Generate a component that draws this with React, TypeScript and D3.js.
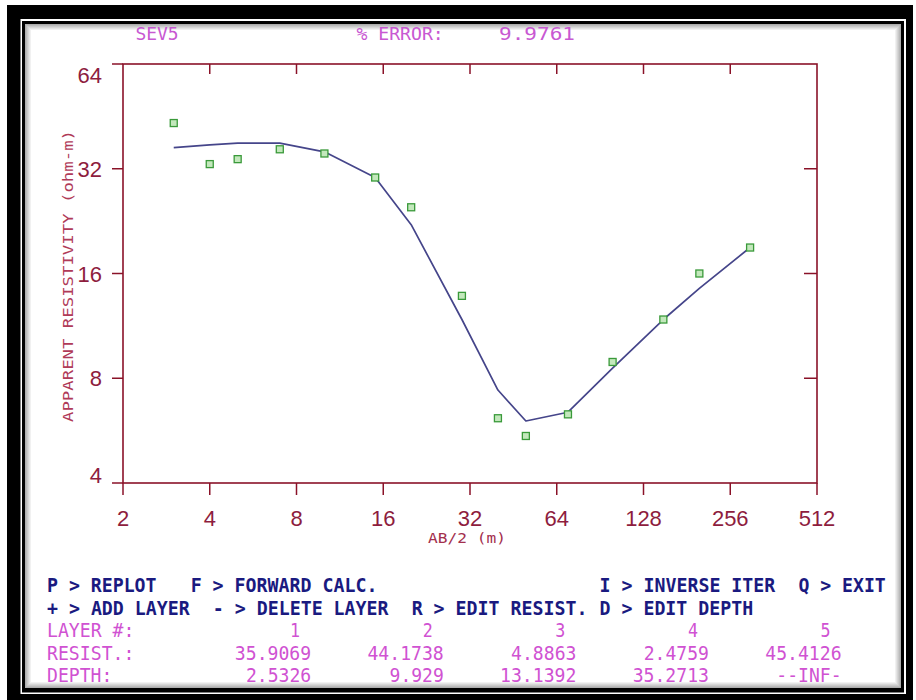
import React from "react";
import * as d3 from "d3";

// ---- data ----
const AB_SPACING = [3, 4, 5, 7, 10, 15, 20, 30, 40, 50, 70, 100, 150, 200, 300];
const RHO_OBSERVED = [43.3, 33.0, 34.1, 36.4, 35.4, 30.2, 24.8, 13.8, 6.14, 5.46, 6.3, 8.91, 11.8, 16.0, 19.0];
const RHO_CALCULATED = [36.8, 37.5, 37.9, 37.9, 35.8, 30.2, 22.1, 11.8, 7.4, 6.03, 6.39, 8.56, 11.8, 14.5, 19.0];
const X_TICKS = [2, 4, 8, 16, 32, 64, 128, 256, 512];
const Y_TICKS = [4, 8, 16, 32, 64];
const LAYER_NUMS = ["1", "2", "3", "4", "5"];
const RESIST = ["35.9069", "44.1738", "4.8863", "2.4759", "45.4126"];
const DEPTH = ["2.5326", "9.929", "13.1392", "35.2713", "--INF-"];
const SITE = "SEV5";
const ERROR_LABEL = "% ERROR:";
const ERROR_VALUE = "9.9761";
const MENU_ROW1: [number, string][] = [[0, "P > REPLOT"], [13, "F > FORWARD CALC."], [50, "I > INVERSE ITER"], [68, "Q > EXIT"]];
const MENU_ROW2: [number, string][] = [[0, "+ > ADD LAYER"], [15, "- > DELETE LAYER"], [33, "R > EDIT RESIST."], [50, "D > EDIT DEPTH"]];

const W = 916, H = 700;
const CW = 11.05; // console cell width
const COL0 = 47;
const gx = (c: number) => COL0 + c * CW;

const AXIS = "#8a1228";
const TICKLBL = "#8e1d3e";
const PINK = "#d052d2";
const TITLEPINK = "#c858d2";
const NAVY = "#1a1a80";

function Mono({ col, y, text, color, weight = "normal", size = 20, endCol }: { col?: number; y: number; text: string; color: string; weight?: string; size?: number; endCol?: number }) {
  const start = endCol !== undefined ? endCol - text.length : (col as number);
  return (
    <text x={gx(start)} y={y} fill={color} fontFamily="'DejaVu Sans Mono', monospace" fontSize={size} fontWeight={weight}
      textLength={text.length * CW - 1} lengthAdjust="spacingAndGlyphs">{text}</text>
  );
}

export default function App() {
  const x = d3.scaleLog().base(2).domain([2, 512]).range([123, 817]);
  const y = d3.scaleLog().base(2).domain([4, 64]).range([483, 64]);
  const line = d3.line<number>().x((_, i) => x(AB_SPACING[i])).y((d) => y(d));
  const [x0, x1] = x.range();
  const [y0, y1] = y.range();
  const bevel = [0, 1, 2, 3, 4, 5];
  const rows = [637, 659.5, 682];
  return (
    <div style={{ position: "fixed", left: 0, top: 0 }}>
      <svg width={W} height={H} style={{ display: "block" }}>
        <rect x={0} y={0} width={W} height={H} fill="#fff" />
        {/* frame */}
        <rect x={7} y={5} width={906} height={695} fill="#000" />
        <rect x={20.5} y={19} width={885.5} height={675} fill="#fff" />
        <rect x={22} y={21} width={882} height={671.5} fill="#000" />
        <rect x={25} y={24} width={876} height={664} fill="#fff" />
        {bevel.map((i) => (
          <rect key={i} x={25.5 + i} y={24.5 + i} width={875 - 2 * i} height={663 - 2 * i} fill="none"
            stroke="#000" strokeOpacity={0.32 * (1 - i / 6)} strokeWidth={1} />
        ))}

        {/* title */}
        <Mono col={8} y={40} text={SITE} color={TITLEPINK} size={18} />
        <Mono col={28} y={40} text={ERROR_LABEL} color={TITLEPINK} size={18} />
        <text x={499} y={40} fill={TITLEPINK} fontFamily="'DejaVu Sans Mono', monospace" fontSize={18}
          textLength={76} lengthAdjust="spacingAndGlyphs">{ERROR_VALUE}</text>

        {/* plot frame */}
        <rect x={x0} y={y1} width={x1 - x0} height={y0 - y1} fill="none" stroke={AXIS} strokeWidth={1.6} />
        {X_TICKS.map((t) => (
          <g key={"xt" + t}>
            <line x1={x(t)} x2={x(t)} y1={y0} y2={y0 + 12} stroke={AXIS} strokeWidth={1.5} />
            {t !== 2 && t !== 512 && <line x1={x(t)} x2={x(t)} y1={y1} y2={y1 + 10} stroke={AXIS} strokeWidth={1.5} />}
            <text x={x(t)} y={526} textAnchor="middle" fill={TICKLBL} fontFamily="'Liberation Sans', Arial, sans-serif" fontSize={22}>{t}</text>
          </g>
        ))}
        {Y_TICKS.map((t, i) => {
          const off = i === Y_TICKS.length - 1 ? 19 : i === 0 ? 0 : 8;
          return (
            <g key={"yt" + t}>
              <line x1={x0 - 11} x2={x0} y1={y(t)} y2={y(t)} stroke={AXIS} strokeWidth={1.5} />
              {t !== 4 && t !== 64 && <line x1={x1 - 13} x2={x1} y1={y(t)} y2={y(t)} stroke={AXIS} strokeWidth={1.5} />}
              <text x={102} y={y(t) + off} textAnchor="end" fill={TICKLBL} fontFamily="'Liberation Sans', Arial, sans-serif" fontSize={22}>{t}</text>
            </g>
          );
        })}
        <text x={467} y={543} textAnchor="middle" fill="#a3304e" fontFamily="'DejaVu Sans Mono', monospace" fontSize={13.5}
          textLength={78} lengthAdjust="spacingAndGlyphs">AB/2 (m)</text>
        <text transform="translate(73,276) rotate(-90)" textAnchor="middle" fill="#b03a58" fontFamily="'DejaVu Sans Mono', monospace"
          fontSize={14} textLength={292} lengthAdjust="spacingAndGlyphs">APPARENT RESISTIVITY (ohm-m)</text>

        {/* model curve */}
        <path d={line(RHO_CALCULATED) || ""} fill="none" stroke="#45458a" strokeWidth={1.7} strokeLinejoin="round" />
        {/* observed */}
        {RHO_OBSERVED.map((v, i) => (
          <rect key={"p" + i} x={x(AB_SPACING[i]) - 3.5} y={y(v) - 3.5} width={7} height={7}
            fill="#c3e8bc" stroke="#3a9a3a" strokeWidth={1.3} />
        ))}

        {/* menu */}
        {MENU_ROW1.map(([c, s]) => <Mono key={s} col={c} y={592} text={s} color={NAVY} weight="bold" />)}
        {MENU_ROW2.map(([c, s]) => <Mono key={s} col={c} y={614.5} text={s} color={NAVY} weight="bold" />)}
        <Mono col={0} y={rows[0]} text="LAYER #:" color={PINK} />
        <Mono col={0} y={rows[1]} text="RESIST.:" color={PINK} />
        <Mono col={0} y={rows[2]} text="DEPTH:" color={PINK} />
        {LAYER_NUMS.map((s, i) => <Mono key={"l" + i} endCol={23 + 12 * i} y={rows[0]} text={s} color={PINK} />)}
        {RESIST.map((s, i) => <Mono key={"r" + i} endCol={24 + 12 * i} y={rows[1]} text={s} color={PINK} />)}
        {DEPTH.map((s, i) => <Mono key={"d" + i} endCol={24 + 12 * i} y={rows[2]} text={s} color={PINK} />)}
      </svg>
    </div>
  );
}
